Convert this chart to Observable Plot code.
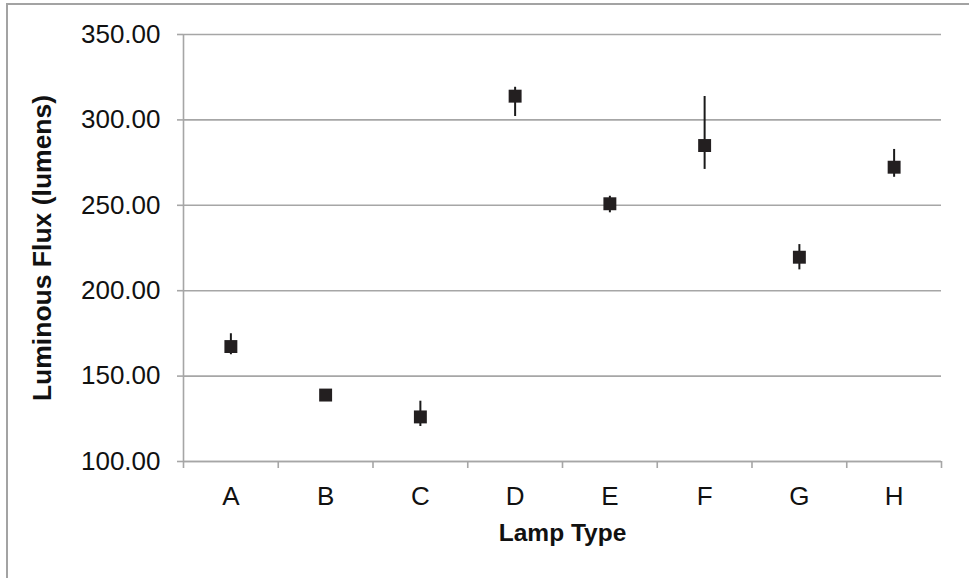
<!DOCTYPE html>
<html>
<head>
<meta charset="utf-8">
<script src="https://cdn.jsdelivr.net/npm/d3@7"></script>
<script src="https://cdn.jsdelivr.net/npm/@observablehq/plot@0.6"></script>
<style>
  html, body { margin: 0; padding: 0; background: #fff; }
  #wrap { position: relative; width: 969px; height: 578px; overflow: hidden; background: #fff; }
  #frame { position: absolute; left: 6px; top: 3px; width: 2000px; height: 2000px;
           border-top: 2px solid #a3a3a3; border-left: 2px solid #a3a3a3; pointer-events: none; }
  #chart { position: absolute; left: 0; top: 0; }
</style>
</head>
<body>
<div id="wrap"><div id="chart"></div><div id="frame"></div></div>
<script>
// Mean luminous flux per lamp type, with the low/high ends of each error bar
const categories = ["A", "B", "C", "D", "E", "F", "G", "H"];
const fluxMean  = [167.3, 138.9, 126.1, 313.9, 250.9, 285.0, 219.6, 272.3];
const fluxHigh  = [174.8, 141.0, 135.3, 319.1, 255.3, 313.7, 227.0, 282.7];
const fluxLow   = [162.5, 137.0, 120.5, 302.0, 245.6, 271.0, 212.2, 266.4];
const yTicks    = [100, 150, 200, 250, 300, 350];
const xTitle = "Lamp Type";
const yTitle = "Luminous Flux (lumens)";

// Each lamp sits in the middle of its own slot on a 0..n category axis
const rows = categories.map((c, i) => ({
  lamp: c, slot: i + 0.5, mean: fluxMean[i], high: fluxHigh[i], low: fluxLow[i]
}));
const slotCenters = rows.map(d => d.slot);
const slotEdges = d3.range(categories.length + 1);

const axisGray = "#a6a6a6";
const ink = "#111";
const font = "'Liberation Sans', Arial, sans-serif";

const chart = Plot.plot({
  width: 969,
  height: 578,
  marginLeft: 183,
  marginRight: 28,
  marginTop: 34,
  marginBottom: 117,
  x: { domain: [0, categories.length] },
  y: { domain: [100, 350] },
  style: { fontFamily: font, fontSize: "26px", color: ink, background: "transparent" },
  marks: [
    Plot.gridY(yTicks, { stroke: axisGray, strokeOpacity: 1, strokeWidth: 1.6 }),
    Plot.ruleX([0], { stroke: axisGray, strokeWidth: 1.6 }),
    Plot.ruleY([100], { stroke: axisGray, strokeWidth: 1.6 }),
    Plot.axisY(yTicks, {
      tickSize: 6, tickPadding: 17, stroke: axisGray, strokeWidth: 1.6, fill: ink,
      tickFormat: d => d.toFixed(2), label: null, fontSize: 26
    }),
    Plot.axisX(slotEdges, {
      tickSize: 7, stroke: axisGray, strokeWidth: 1.6, tickFormat: () => "", label: null
    }),
    Plot.axisX(slotCenters, {
      tickSize: 0, tickPadding: 25, fill: ink, fontSize: 26, label: null,
      tickFormat: d => categories[Math.floor(d)]
    }),
    Plot.ruleX(rows, { x: "slot", y1: "low", y2: "high", stroke: "#1a1a1a", strokeWidth: 2 }),
    Plot.dot(rows, { x: "slot", y: "mean", symbol: "square", r: 7.3, fill: "#231f20", stroke: "none" }),
    Plot.text([xTitle], {
      frameAnchor: "bottom", dy: 72, lineAnchor: "middle", textAnchor: "middle",
      fontSize: 24.5, fontWeight: "bold", fill: ink
    }),
    Plot.text([yTitle], {
      frameAnchor: "left", dx: -141, rotate: -90, lineAnchor: "middle", textAnchor: "middle",
      fontSize: 26.5, fontWeight: "bold", fill: ink
    })
  ]
});

document.getElementById("chart").appendChild(chart);
</script>
</body>
</html>
